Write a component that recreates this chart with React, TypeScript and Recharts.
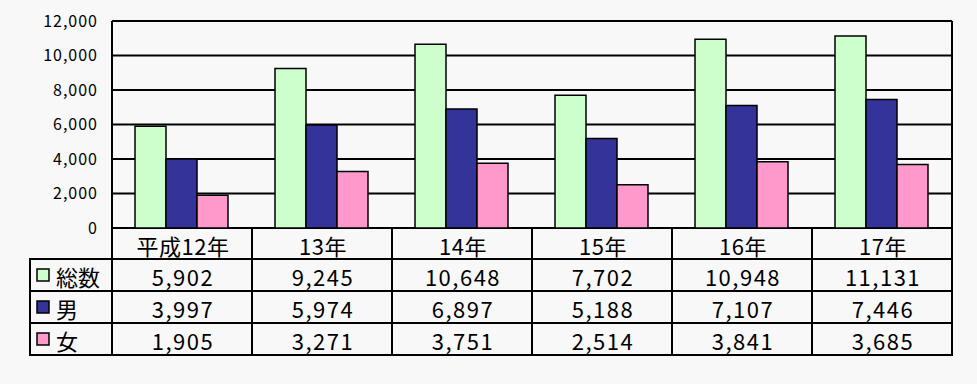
import React from 'react';
import { BarChart, Bar, XAxis, YAxis, CartesianGrid } from 'recharts';

const categories = ['平成12年', '13年', '14年', '15年', '16年', '17年'];
const totalValues = [5902, 9245, 10648, 7702, 10948, 11131];
const maleValues = [3997, 5974, 6897, 5188, 7107, 7446];
const femaleValues = [1905, 3271, 3751, 2514, 3841, 3685];
const seriesNames = ['総数', '男', '女'];
const seriesKeys = ['total', 'male', 'female'];
const seriesColors = ['#CCFFCC', '#333399', '#FF99CC'];
const yTicks = [0, 2000, 4000, 6000, 8000, 10000, 12000];

const seriesValues = [totalValues, maleValues, femaleValues];
const data = categories.map((c, i) => ({
  category: c,
  total: totalValues[i],
  male: maleValues[i],
  female: femaleValues[i],
}));

const W = 977;
const H = 384;
const FONT = "'Noto Sans CJK JP', sans-serif";
const CELL_W = 140;
const LEG_W = 82;
const ROWS = [0, 31, 63, 95, 127];
const LINE = { stroke: '#000', strokeWidth: 2, strokeLinecap: 'square' as const };
const TXT = { fontFamily: FONT, fontSize: 22, fill: '#000', letterSpacing: 1.5 };

const fmt = (v: number) => v.toLocaleString('en-US');

function TableTick(props: any) {
  const { x, y, payload } = props;
  const i: number = payload.index;
  const left = x - CELL_W / 2;
  const right = x + CELL_W / 2;
  const els: React.ReactNode[] = [];
  els.push(<line key="vr" x1={right} x2={right} y1={y} y2={y + ROWS[4]} {...LINE} />);
  for (let r = 1; r < ROWS.length; r++) {
    els.push(<line key={'h' + r} x1={left} x2={right} y1={y + ROWS[r]} y2={y + ROWS[r]} {...LINE} />);
  }
  els.push(
    <text key="hd" x={x + 1} y={y + (ROWS[0] + ROWS[1]) / 2 + 1} textAnchor="middle" dominantBaseline="central"
      {...TXT} letterSpacing={0.5}>{payload.value}</text>
  );
  seriesValues.forEach((vals, s) => {
    els.push(
      <text key={'v' + s} x={x + 1} y={y + (ROWS[s + 1] + ROWS[s + 2]) / 2 + 1} textAnchor="middle" dominantBaseline="central"
        {...TXT}>{fmt(vals[i])}</text>
    );
  });
  if (i === 0) {
    const ll = left - LEG_W;
    els.push(<line key="vl" x1={left} x2={left} y1={y} y2={y + ROWS[4]} {...LINE} />);
    els.push(<line key="vll" x1={ll} x2={ll} y1={y + ROWS[1]} y2={y + ROWS[4]} {...LINE} />);
    for (let r = 1; r < ROWS.length; r++) {
      els.push(<line key={'lh' + r} x1={ll} x2={left} y1={y + ROWS[r]} y2={y + ROWS[r]} {...LINE} />);
    }
    seriesNames.forEach((name, s) => {
      const cy = y + (ROWS[s + 1] + ROWS[s + 2]) / 2;
      els.push(
        <rect key={'sw' + s} x={ll + 7} y={cy - 6} width={12} height={12} fill={seriesColors[s]} stroke="#000" strokeWidth={1.5} />
      );
      els.push(
        <text key={'ln' + s} x={ll + 26} y={cy + 1} textAnchor="start" dominantBaseline="central"
          {...TXT} letterSpacing={0}>{name}</text>
      );
    });
  }
  return <g>{els}</g>;
}

export default function App() {
  return (
    <div style={{ position: 'absolute', left: 0, top: 0, width: W, height: H, background: '#F8F8F8' }}>
      <BarChart
        width={W}
        height={H}
        data={data}
        margin={{ top: 21, right: 25, bottom: 29, left: 0 }}
        barCategoryGap={23}
        barGap={0}
      >
        <CartesianGrid
          stroke="#000"
          strokeWidth={2}
          horizontal
          vertical
          verticalCoordinatesGenerator={(p: any) => [p.offset.left, p.offset.left + p.offset.width]}
        />
        <YAxis
          width={112}
          domain={[0, 12000]}
          ticks={yTicks}
          tickFormatter={fmt}
          axisLine={false}
          tickLine={false}
          tickSize={0}
          tickMargin={14}
          tick={{ fontFamily: FONT, fontSize: 16, fill: '#000', letterSpacing: 1 }}
        />
        <XAxis
          dataKey="category"
          height={127}
          axisLine={false}
          tickLine={false}
          tickSize={0}
          tickMargin={0}
          interval={0}
          tick={<TableTick />}
        />
        {seriesKeys.map((k, s) => (
          <Bar
            key={k}
            dataKey={k}
            name={seriesNames[s]}
            fill={seriesColors[s]}
            stroke="#000"
            strokeWidth={1.5}
            isAnimationActive={false}
          />
        ))}
      </BarChart>
    </div>
  );
}
